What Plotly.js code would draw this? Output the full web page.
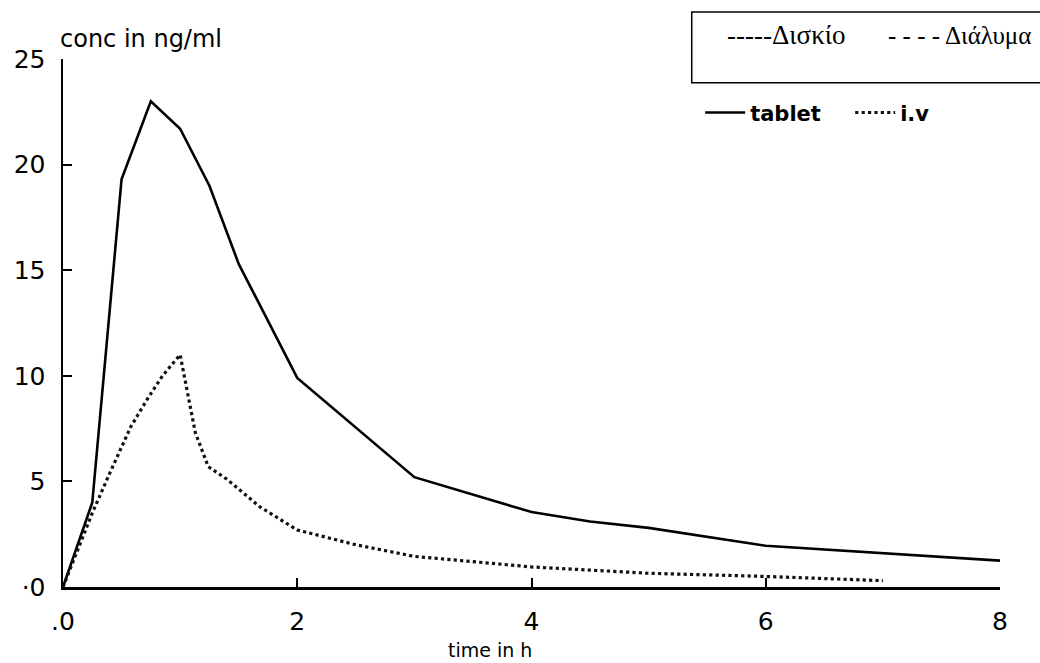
<!DOCTYPE html>
<html>
<head>
<meta charset="utf-8">
<script src="https://cdn.plot.ly/plotly-3.0.1.min.js"></script>
<style>html,body{margin:0;padding:0;background:#fff;}#chart{width:1040px;height:663px;}</style>
</head>
<body>
<div id="chart"></div>
<script>
// Data
const tabletTime = [0, 0.25, 0.5, 0.75, 1.0, 1.25, 1.5, 2, 3, 4, 4.5, 5, 6, 8];
const tabletConc = [0, 4.0, 19.3, 23.0, 21.7, 19.0, 15.3, 9.9, 5.2, 3.55, 3.1, 2.8, 1.95, 1.25];
const ivTime = [0, 0.25, 0.4, 0.58, 0.72, 0.85, 1.0, 1.06, 1.13, 1.24, 1.4, 1.68, 2.0, 2.5, 3.0, 4.0, 5.0, 6.0, 7.0];
const ivConc = [0, 3.5, 5.4, 7.6, 8.9, 10.0, 11.0, 9.2, 7.3, 5.7, 5.1, 3.8, 2.7, 2.0, 1.45, 0.95, 0.65, 0.5, 0.3];
const xTickVals = [0, 2, 4, 6, 8];
const xTickText = ['.0', '2', '4', '6', '8'];
const yTickVals = [0, 5, 10, 15, 20, 25];
const yTickText = ['·0', '5', '10', '15', '20', '25'];
const seriesNames = ['tablet', 'i.v'];
const boxTexts = ['-----Δισκίο', '- - - - Διάλυμα'];

const traces = [
  {x: tabletTime, y: tabletConc, name: seriesNames[0], type: 'scatter', mode: 'lines',
   line: {color: '#000', width: 2.6}},
  {x: ivTime, y: ivConc, name: seriesNames[1], type: 'scatter', mode: 'lines',
   line: {color: '#111', width: 3.2, dash: 'dot'}}
];

const layout = {
  width: 1040, height: 663,
  margin: {l: 63, r: 40, t: 59, b: 76, autoexpand: false},
  paper_bgcolor: '#fff', plot_bgcolor: '#fff',
  showlegend: true,
  legend: {orientation: 'h', x: 0.68, y: 0.898, xanchor: 'left', yanchor: 'middle',
           font: {family: 'DejaVu Sans', size: 21, color: '#000', weight: 'bold'},
           bgcolor: 'rgba(0,0,0,0)', itemwidth: 40, entrywidth: 95, entrywidthmode: 'pixels'},
  xaxis: {range: [0, 8], showgrid: false, zeroline: false, showline: true, linecolor: '#000', linewidth: 2.5,
          ticks: 'inside', ticklen: 9, tickwidth: 2, tickcolor: '#000',
          tickvals: xTickVals, ticktext: xTickText, ticklabelstandoff: 10, automargin: false,
          tickfont: {family: 'DejaVu Sans', size: 25, color: '#000'}, fixedrange: true},
  yaxis: {range: [0, 25], showgrid: false, zeroline: false, showline: true, linecolor: '#000', linewidth: 2.5,
          ticks: 'inside', ticklen: 9, tickwidth: 2, tickcolor: '#000',
          tickvals: yTickVals, ticktext: yTickText, ticklabelstandoff: 10, automargin: false,
          tickfont: {family: 'DejaVu Sans', size: 25, color: '#000'}, fixedrange: true},
  shapes: [
    {type: 'rect', xref: 'paper', yref: 'paper', x0: 0.671, x1: 1.05, y0: 0.955, y1: 1.089,
     line: {color: '#000', width: 1.5}, fillcolor: 'rgba(0,0,0,0)'}
  ],
  annotations: [
    {text: boxTexts[0], xref: 'paper', yref: 'paper', x: 0.772, y: 1.045, xanchor: 'center', yanchor: 'middle',
     showarrow: false, font: {family: 'Liberation Serif', size: 27, color: '#000'}},
    {text: boxTexts[1], xref: 'paper', yref: 'paper', x: 0.957, y: 1.045, xanchor: 'center', yanchor: 'middle',
     showarrow: false, font: {family: 'Liberation Serif', size: 25, color: '#000'}},
    {text: 'conc in ng/ml', xref: 'paper', yref: 'paper', x: 0.083, y: 1.037, xanchor: 'center', yanchor: 'middle',
     showarrow: false, font: {family: 'DejaVu Sans', size: 24, color: '#000'}},
    {text: 'time in h', xref: 'paper', yref: 'paper', x: 0.456, y: -0.119, xanchor: 'center', yanchor: 'middle',
     showarrow: false, font: {family: 'DejaVu Sans', size: 19, color: '#000'}}
  ]
};

Plotly.newPlot('chart', traces, layout, {displayModeBar: false, staticPlot: true});
</script>
</body>
</html>
